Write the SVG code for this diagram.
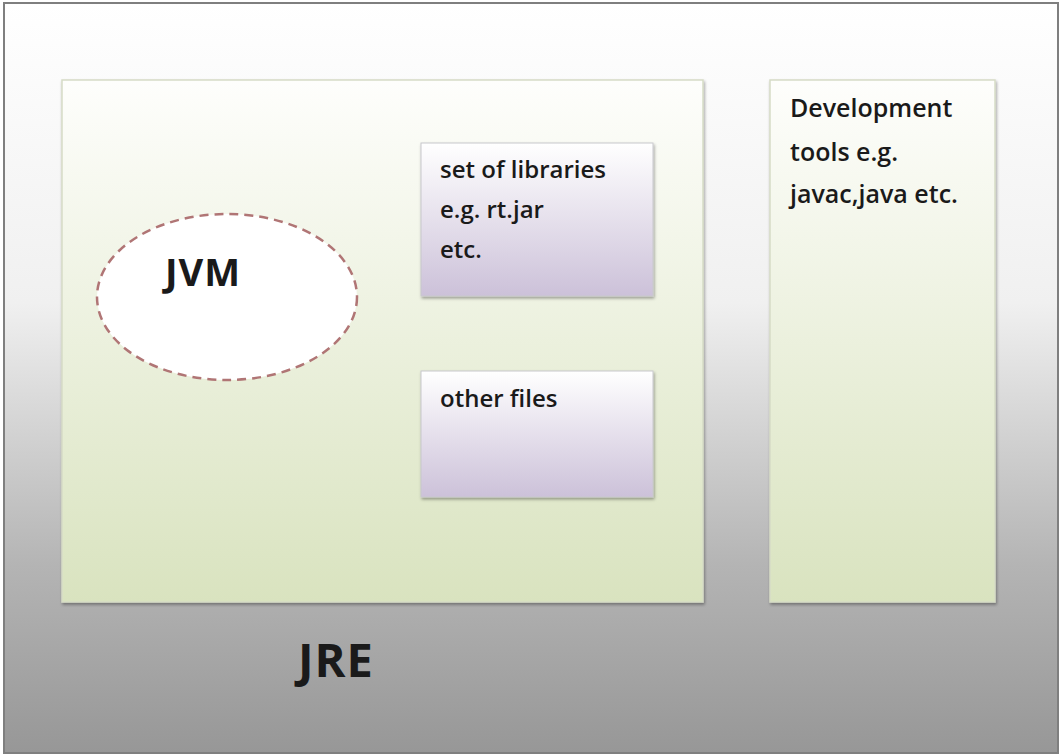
<svg xmlns="http://www.w3.org/2000/svg" width="1062" height="756" viewBox="0 0 1062 756">
<style>
.t{font-family:"Open Sans","Liberation Sans",sans-serif;fill:#1a1a1a;font-size:24px;font-weight:600}
.d{font-size:25px}
</style>
<defs>
<linearGradient id="gOuter" x1="0" y1="0" x2="0" y2="1">
<stop offset="0" stop-color="#ffffff"/><stop offset="0.4" stop-color="#f0f0f0"/><stop offset="0.75" stop-color="#b4b4b4"/><stop offset="1" stop-color="#979797"/>
</linearGradient>
<linearGradient id="gGreen" x1="0" y1="0" x2="0" y2="1">
<stop offset="0" stop-color="#fefefc"/><stop offset="1" stop-color="#d9e3bf"/>
</linearGradient>
<linearGradient id="gPurple" x1="0" y1="0" x2="0" y2="1">
<stop offset="0" stop-color="#ffffff"/><stop offset="1" stop-color="#ccc1d9"/>
</linearGradient>
<filter id="sh" x="-5%" y="-5%" width="110%" height="110%">
<feDropShadow dx="1" dy="2" stdDeviation="1.5" flood-color="#000" flood-opacity="0.35"/>
</filter>
</defs>
<rect x="4" y="3" width="1054" height="750" fill="url(#gOuter)" stroke="#7f7f7f" stroke-width="2"/>
<g id="jre">
<rect x="62" y="80" width="641" height="522" fill="url(#gGreen)" stroke="#d6dcc6" stroke-width="1.5" filter="url(#sh)"/>
<text class="t" x="298" y="677" style="font-size:47px;font-weight:700;letter-spacing:1px">JRE</text>
</g>
<g id="jvm">
<ellipse cx="227" cy="297" rx="130" ry="83" fill="#ffffff" stroke="#b07575" stroke-width="2.5" stroke-dasharray="9,6"/>
<text class="t" x="165" y="286" style="font-size:38px;font-weight:700;letter-spacing:1px">JVM</text>
</g>
<g id="libraries">
<rect x="421" y="143" width="232" height="153" fill="url(#gPurple)" stroke="#c8c8cc" stroke-width="1" filter="url(#sh)"/>
<text class="t" x="440" y="178">set of libraries</text>
<text class="t" x="440" y="218">e.g. rt.jar</text>
<text class="t" x="440" y="258">etc.</text>
</g>
<g id="otherfiles">
<rect x="421" y="371" width="232" height="126" fill="url(#gPurple)" stroke="#c8c8cc" stroke-width="1" filter="url(#sh)"/>
<text class="t" x="440" y="407">other files</text>
</g>
<g id="devtools">
<rect x="770" y="80" width="225" height="522" fill="url(#gGreen)" stroke="#d6dcc6" stroke-width="1.5" filter="url(#sh)"/>
<text class="t d" x="790" y="117">Development</text>
<text class="t d" x="790" y="161">tools e.g.</text>
<text class="t d" x="790" y="203">javac,java etc.</text>
</g>
<g id="connectors"/>
</svg>
